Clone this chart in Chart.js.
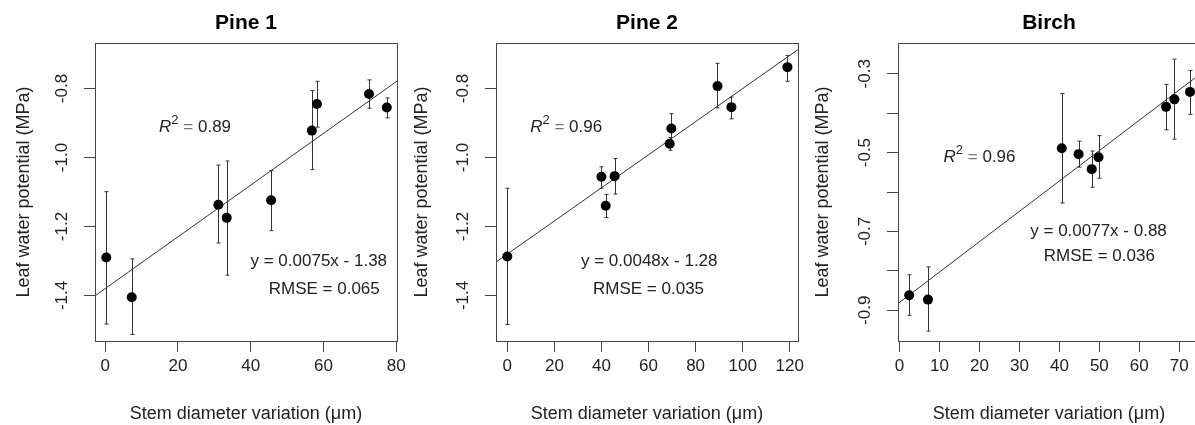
<!DOCTYPE html>
<html>
<head>
<meta charset="utf-8">
<script src="https://cdn.jsdelivr.net/npm/chart.js@4/dist/chart.umd.min.js"></script>
<style>
  html, body { margin: 0; padding: 0; background: #fff; overflow: hidden; }
  #wrap { position: relative; width: 1195px; height: 425px; overflow: hidden; }
  canvas { position: absolute; left: 0; top: 0; }
</style>
</head>
<body>
<div id="wrap">
  <canvas id="pine1" width="1210" height="425"></canvas>
  <canvas id="pine2" width="1210" height="425"></canvas>
  <canvas id="birch" width="1210" height="425"></canvas>
</div>
<script>
// Pine 1
const pine1X = [0.3, 7.3, 31.1, 33.4, 45.6, 56.8, 58.2, 72.5, 77.4];
const pine1Y = [-1.290, -1.405, -1.137, -1.175, -1.124, -0.922, -0.845, -0.816, -0.855];
const pine1Hi = [-1.099, -1.294, -1.022, -1.010, -1.038, -0.806, -0.779, -0.775, -0.827];
const pine1Lo = [-1.483, -1.513, -1.248, -1.341, -1.212, -1.035, -0.912, -0.857, -0.885];
const pine1XTicks = [0, 20, 40, 60, 80];
const pine1YTicks = [-1.4, -1.2, -1.0, -0.8];

// Pine 2
const pine2X = [0, 40.0, 41.8, 45.6, 69.0, 69.7, 89.3, 95.2, 119.0];
const pine2Y = [-1.287, -1.056, -1.140, -1.054, -0.960, -0.916, -0.793, -0.854, -0.738];
const pine2Hi = [-1.089, -1.027, -1.107, -1.003, -0.942, -0.873, -0.727, -0.825, -0.704];
const pine2Lo = [-1.484, -1.089, -1.174, -1.106, -0.979, -0.955, -0.856, -0.888, -0.779];
const pine2XTicks = [0, 20, 40, 60, 80, 100, 120];
const pine2YTicks = [-1.4, -1.2, -1.0, -0.8];

// Birch
const birchX = [2.4, 7.1, 40.6, 44.8, 48.1, 49.8, 66.7, 68.8, 72.7];
const birchY = [-0.862, -0.873, -0.489, -0.504, -0.542, -0.512, -0.384, -0.365, -0.346];
const birchHi = [-0.810, -0.790, -0.350, -0.471, -0.496, -0.457, -0.327, -0.263, -0.292];
const birchLo = [-0.913, -0.953, -0.628, -0.537, -0.588, -0.565, -0.442, -0.466, -0.403];
const birchXTicks = [0, 10, 20, 30, 40, 50, 60, 70];
const birchYTicks = [-0.9, -0.8, -0.7, -0.6, -0.5, -0.4, -0.3];
const birchYLabels = ["-0.9", "", "-0.7", "", "-0.5", "", "-0.3"];

// fits
const pine1Fit = { slope: 0.0075, icpt: -1.38, r2: "0.89", rmse: "0.065" };
const pine2Fit = { slope: 0.0048, icpt: -1.28, r2: "0.96", rmse: "0.035" };
const birchFit = { slope: 0.0077, icpt: -0.88, r2: "0.96", rmse: "0.036" };

const FONT = "'Liberation Sans', Arial, sans-serif";
const CANVAS_W = 1210;

// box, error bars, titles and text labels
const panelPlugin = {
  id: "panel",
  beforeDatasetsDraw(chart) {
    const p = chart.options.plugins.panel;
    const { ctx, scales: { x, y } } = chart;
    ctx.save();
    ctx.strokeStyle = "#333";
    ctx.lineWidth = 1;
    p.xs.forEach((xv, i) => {
      const px = Math.round(x.getPixelForValue(xv)) + 0.5;
      const top = y.getPixelForValue(p.hi[i]);
      const bot = y.getPixelForValue(p.lo[i]);
      ctx.beginPath();
      ctx.moveTo(px, top); ctx.lineTo(px, bot);
      ctx.moveTo(px - 2, top); ctx.lineTo(px + 2, top);
      ctx.moveTo(px - 2, bot); ctx.lineTo(px + 2, bot);
      ctx.stroke();
    });
    ctx.restore();
  },
  afterDraw(chart) {
    const p = chart.options.plugins.panel;
    const { ctx, chartArea: a, scales: { x, y } } = chart;
    ctx.save();
    ctx.strokeStyle = "#444";
    ctx.lineWidth = 1;
    ctx.strokeRect(Math.round(a.left) + 0.5, Math.round(a.top) + 0.5,
      Math.round(a.right - a.left), Math.round(a.bottom - a.top));

    ctx.fillStyle = "#000";
    ctx.font = "bold 21px " + FONT;
    ctx.textAlign = "center";
    ctx.textBaseline = "middle";
    ctx.fillText(p.title, (a.left + a.right) / 2, 23);

    // R^2 label
    const rx = x.getPixelForValue(p.r2At[0]);
    const ry = y.getPixelForValue(p.r2At[1]);
    const parts = [
      { t: "R", f: "italic 17px " + FONT, c: "#222", dy: 0 },
      { t: "2", f: "13px " + FONT, c: "#222", dy: -7 },
      { t: " = ", f: "17px " + FONT, c: "#777", dy: 0 },
      { t: p.fit.r2, f: "17px " + FONT, c: "#222", dy: 0 }
    ];
    let total = 0;
    parts.forEach(s => { ctx.font = s.f; s.w = ctx.measureText(s.t).width; total += s.w; });
    let cx = rx - total / 2;
    ctx.textAlign = "left";
    parts.forEach(s => {
      ctx.font = s.f; ctx.fillStyle = s.c;
      ctx.fillText(s.t, cx, ry + s.dy);
      cx += s.w;
    });

    ctx.textAlign = "center";
    ctx.font = "17px " + FONT;
    ctx.fillStyle = "#222";
    const sign = p.fit.icpt < 0 ? " - " : " + ";
    const eq = "y = " + p.fit.slope.toFixed(4) + "x" + sign + Math.abs(p.fit.icpt).toFixed(2);
    ctx.fillText(eq, x.getPixelForValue(p.eqAt[0]), y.getPixelForValue(p.eqAt[1]));
    ctx.fillText("RMSE = " + p.fit.rmse, x.getPixelForValue(p.rmseAt[0]), y.getPixelForValue(p.rmseAt[1]));
    ctx.restore();
  }
};

function makePanel(id, cfg) {
  const fitLine = [cfg.xMin, cfg.xMax].map(v => ({ x: v, y: cfg.fit.slope * v + cfg.fit.icpt }));
  return new Chart(document.getElementById(id), {
    type: "scatter",
    data: {
      datasets: [
        {
          type: "line",
          data: fitLine,
          borderColor: "#333",
          borderWidth: 1,
          pointRadius: 0,
          order: 2
        },
        {
          data: cfg.xs.map((v, i) => ({ x: v, y: cfg.ys[i] })),
          backgroundColor: "#000",
          borderWidth: 0,
          pointRadius: 5,
          order: 1
        }
      ]
    },
    options: {
      responsive: false,
      animation: false,
      events: [],
      layout: {
        padding: { left: cfg.boxLeft - 95, right: CANVAS_W - cfg.boxRight, top: 43, bottom: 0 }
      },
      plugins: {
        legend: { display: false },
        tooltip: { enabled: false },
        panel: cfg
      },
      scales: {
        x: {
          type: "linear",
          min: cfg.xMin,
          max: cfg.xMax,
          afterBuildTicks: s => { s.ticks = cfg.xTicks.map(v => ({ value: v })); },
          afterFit: s => { s.height = 84; },
          grid: { drawOnChartArea: false, drawTicks: true, tickLength: 11, color: "#444" },
          border: { display: false },
          ticks: {
            autoSkip: false, maxRotation: 0, padding: 4,
            color: "#222", font: { family: FONT, size: 17 },
            callback: v => String(v)
          },
          title: {
            display: true,
            text: "Stem diameter variation (μm)",
            color: "#222",
            font: { family: FONT, size: 18 },
            padding: { top: 0, bottom: 0 }
          }
        },
        y: {
          type: "linear",
          min: cfg.yMin,
          max: cfg.yMax,
          afterBuildTicks: s => { s.ticks = cfg.yTicks.map(v => ({ value: v })); },
          afterFit: s => { s.width = 95; },
          grid: { drawOnChartArea: false, drawTicks: true, tickLength: 11, color: "#444" },
          border: { display: false },
          ticks: {
            autoSkip: false, minRotation: 90, maxRotation: 90, crossAlign: "center", padding: 7,
            color: "#222", font: { family: FONT, size: 17 },
            callback: (v, i) => cfg.yLabels ? cfg.yLabels[i] : v.toFixed(1)
          },
          title: {
            display: true,
            text: "Leaf water potential (MPa)",
            color: "#222",
            font: { family: FONT, size: 18 },
            padding: { top: cfg.yTitlePad, bottom: 0 }
          }
        }
      }
    },
    plugins: [panelPlugin]
  });
}

makePanel("pine1", {
  title: "Pine 1",
  xs: pine1X, ys: pine1Y, hi: pine1Hi, lo: pine1Lo,
  xTicks: pine1XTicks, yTicks: pine1YTicks,
  xMin: -2.8, xMax: 80.2, yMin: -1.532, yMax: -0.668,
  boxLeft: 95, boxRight: 397, yTitlePad: 13,
  fit: pine1Fit, r2At: [24.7, -0.913], eqAt: [58.7, -1.302], rmseAt: [60.2, -1.383]
});

makePanel("pine2", {
  title: "Pine 2",
  xs: pine2X, ys: pine2Y, hi: pine2Hi, lo: pine2Lo,
  xTicks: pine2XTicks, yTicks: pine2YTicks,
  xMin: -4.8, xMax: 123.5, yMin: -1.532, yMax: -0.668,
  boxLeft: 496, boxRight: 798, yTitlePad: 10,
  fit: pine2Fit, r2At: [25.0, -0.913], eqAt: [60.3, -1.302], rmseAt: [60.0, -1.383]
});

makePanel("birch", {
  title: "Birch",
  xs: birchX, ys: birchY, hi: birchHi, lo: birchLo,
  xTicks: birchXTicks, yTicks: birchYTicks, yLabels: birchYLabels,
  xMin: -0.4, xMax: 75.2, yMin: -0.978, yMax: -0.222,
  boxLeft: 898, boxRight: 1200, yTitlePad: 9,
  fit: birchFit, r2At: [20.0, -0.512], eqAt: [49.8, -0.699], rmseAt: [50.0, -0.762]
});
</script>
</body>
</html>
